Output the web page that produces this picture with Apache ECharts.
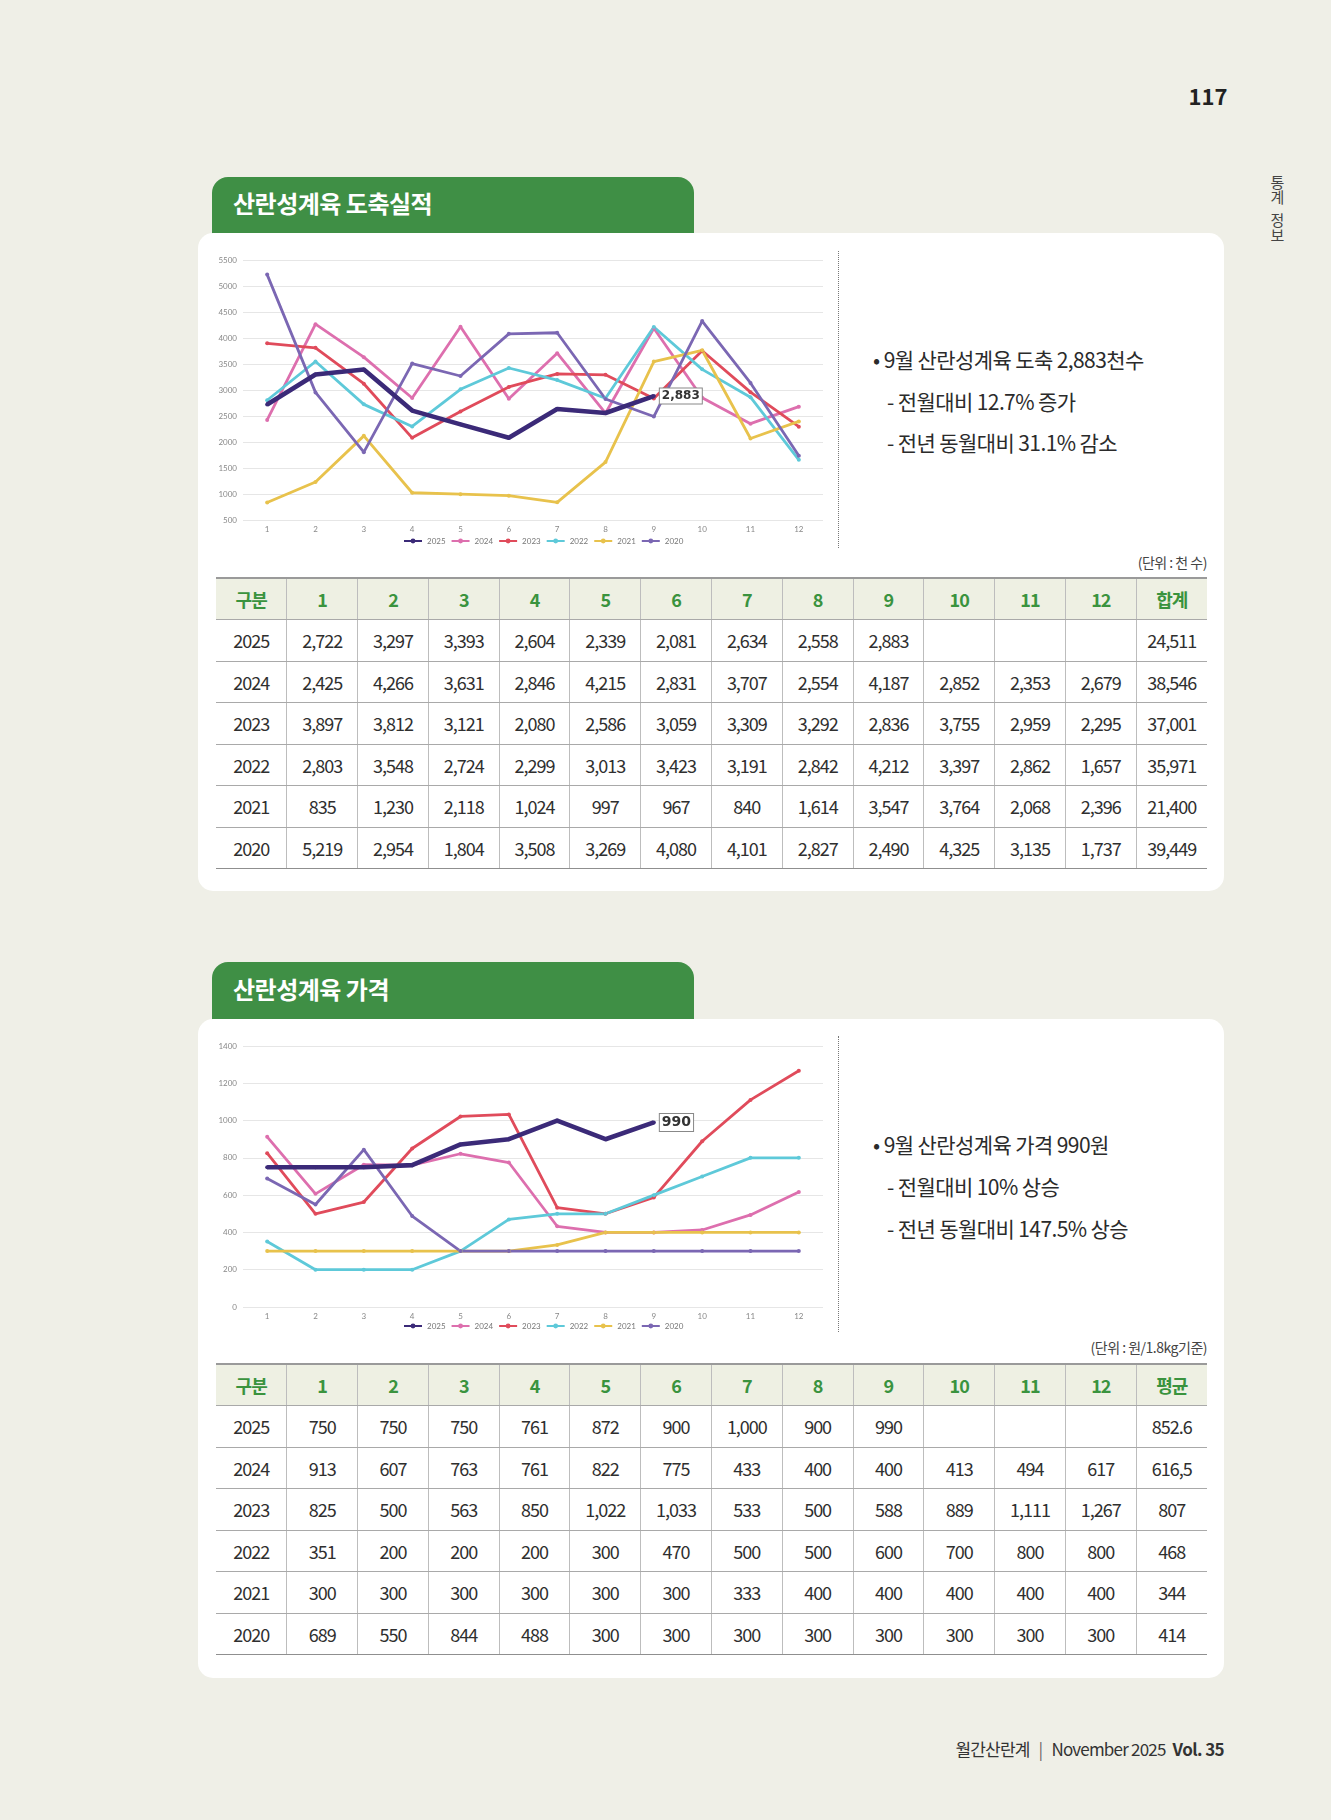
<!DOCTYPE html>
<html><head><meta charset="utf-8">
<script src="https://cdn.jsdelivr.net/npm/echarts@6/dist/echarts.min.js"></script>
<style>
html,body{margin:0;padding:0;}
body{width:1331px;height:1820px;background:#efefe7;position:relative;overflow:hidden;font-family:"Noto Sans CJK KR","Noto Sans",sans-serif;color:#333;}
.abs{position:absolute;}
.tab{position:absolute;left:212px;width:482px;height:80px;background:#3f8f45;border-radius:16px 16px 0 0;}
.tabt{position:absolute;left:233px;color:#fff;font-weight:700;font-size:24px;line-height:30px;letter-spacing:-0.5px;}
.card{position:absolute;left:198px;width:1026px;background:#fff;border-radius:15px;}
.sep{position:absolute;left:838px;width:0;border-left:1.5px dotted #777;}
.txt{position:absolute;font-size:21px;line-height:30px;color:#2b2b2b;letter-spacing:-0.6px;white-space:nowrap;}
.unit{position:absolute;right:124px;font-size:14px;line-height:20px;color:#444;letter-spacing:-0.5px;}
table{position:absolute;left:216px;width:991px;border-collapse:collapse;table-layout:fixed;}
td,th{text-align:center;padding:0;font-size:18px;letter-spacing:-1px;border-left:1px solid #bdbdbd;border-bottom:1px solid #a9a9a9;}
td:first-child,th:first-child{border-left:none;}
th{background:#eef0e3;color:#3a933e;font-weight:700;height:40px;border-top:2px solid #9a9a9a;}
td{height:40.5px;color:#2f2f2f;font-weight:400;}
tr:last-child td{border-bottom:1.5px solid #8f8f8f;}
</style></head>
<body>
<div class="abs" style="left:1180px;top:82px;width:56px;text-align:center;font-size:22px;font-weight:700;line-height:26px;color:#222;">117</div>
<div class="abs" style="left:1268px;top:175px;font-size:15px;color:#444;writing-mode:vertical-rl;text-orientation:upright;letter-spacing:0px;line-height:18px;">통계<span style="display:inline-block;height:8px;"></span>정보</div>

<div class="tab" style="top:177px;"></div>
<div class="tabt" style="top:188px;">산란성계육 도축실적</div>
<div class="card" style="top:233px;height:658px;"></div>
<div id="c1" class="abs" style="left:200px;top:245px;width:630px;height:310px;"></div>
<div class="sep" style="top:251px;height:297px;"></div>
<div class="txt" style="left:873px;top:344px;">• 9월 산란성계육 도축 2,883천수</div>
<div class="txt" style="left:887px;top:386px;">- 전월대비 12.7% 증가</div>
<div class="txt" style="left:887px;top:427px;">- 전년 동월대비 31.1% 감소</div>
<div class="unit" style="top:552px;">(단위 : 천 수)</div>
<table id="t1" style="top:577px;"></table>

<div class="tab" style="top:962px;"></div>
<div class="tabt" style="top:974px;">산란성계육 가격</div>
<div class="card" style="top:1019px;height:659px;"></div>
<div id="c2" class="abs" style="left:200px;top:1030px;width:630px;height:310px;"></div>
<div class="sep" style="top:1036px;height:296px;"></div>
<div class="txt" style="left:873px;top:1129px;">• 9월 산란성계육 가격 990원</div>
<div class="txt" style="left:887px;top:1171px;">- 전월대비 10% 상승</div>
<div class="txt" style="left:887px;top:1213px;">- 전년 동월대비 147.5% 상승</div>
<div class="unit" style="top:1337px;">(단위 : 원/1.8kg기준)</div>
<table id="t2" style="top:1363px;"></table>

<div class="abs" style="right:107px;top:1737px;font-size:17px;line-height:24px;color:#333;white-space:nowrap;letter-spacing:-0.8px;">월간산란계 <span style="color:#666;padding:0 6px;">|</span> November 2025 <b style="margin-left:4px;letter-spacing:-0.6px;">Vol. 35</b></div>

<script>
// ---- data ----
var months = ['1','2','3','4','5','6','7','8','9','10','11','12'];
var years = ['2025','2024','2023','2022','2021','2020'];
var colors = ['#3b2a78','#dd6fae','#e04b5b','#5ec9d9','#e8c24c','#7b67b3'];

// slaughter (천 수)
var s2025 = [2722,3297,3393,2604,2339,2081,2634,2558,2883];
var s2024 = [2425,4266,3631,2846,4215,2831,3707,2554,4187,2852,2353,2679];
var s2023 = [3897,3812,3121,2080,2586,3059,3309,3292,2836,3755,2959,2295];
var s2022 = [2803,3548,2724,2299,3013,3423,3191,2842,4212,3397,2862,1657];
var s2021 = [835,1230,2118,1024,997,967,840,1614,3547,3764,2068,2396];
var s2020 = [5219,2954,1804,3508,3269,4080,4101,2827,2490,4325,3135,1737];
var totals = ['24,511','38,546','37,001','35,971','21,400','39,449'];

// price (원/1.8kg)
var p2025 = [750,750,750,761,872,900,1000,900,990];
var p2024 = [913,607,763,761,822,775,433,400,400,413,494,617];
var p2023 = [825,500,563,850,1022,1033,533,500,588,889,1111,1267];
var p2022 = [351,200,200,200,300,470,500,500,600,700,800,800];
var p2021 = [300,300,300,300,300,300,333,400,400,400,400,400];
var p2020 = [689,550,844,488,300,300,300,300,300,300,300,300];
var avgs = ['852.6','616,5','807','468','344','414'];

var yTicks1 = {min:500,max:5500,interval:500};
var yTicks2 = {min:0,max:1400,interval:200};

function fmt(v){return v.toLocaleString('en-US');}

function buildTable(id, rows, lastHead, lastCol){
  var h = '<tr><th>구분</th>' + months.map(function(m){return '<th>'+m+'</th>';}).join('') + '<th>'+lastHead+'</th></tr>';
  rows.forEach(function(r,i){
    h += '<tr><td>'+years[i]+'</td>';
    for(var k=0;k<12;k++){ h += '<td>' + (r[k]!==undefined?fmt(r[k]):'') + '</td>'; }
    h += '<td>'+lastCol[i]+'</td></tr>';
  });
  document.getElementById(id).innerHTML = h;
}
buildTable('t1',[s2025,s2024,s2023,s2022,s2021,s2020],'합계',totals);
buildTable('t2',[p2025,p2024,p2023,p2022,p2021,p2020],'평균',avgs);

function makeChart(el, dataSets, yt, labelIdx, gridTop, gridBottom, labelSize){
  var chart = echarts.init(document.getElementById(el));
  var series = dataSets.map(function(d,i){
    var data = d.map(function(v,k){
      if(i===0 && k===labelIdx){
        return {value:v,label:{show:true,position:'right',distance:4,formatter:function(p){return fmt(p.value);},
          color:'#333',fontWeight:'bold',fontSize:labelSize,fontFamily:'DejaVu Sans',backgroundColor:'#fff',borderColor:'#888',borderWidth:1,padding:[2,2,1,2]}};
      }
      return v;
    });
    return {name:years[i],type:'line',data:data,symbol:'circle',symbolSize:4,
      lineStyle:{width:i===0?4.6:2.8,color:colors[i]},itemStyle:{color:colors[i]},
      z:i===0?5:2,silent:true,animation:false};
  });
  chart.setOption({
    animation:false,
    grid:{left:43,right:7,top:gridTop,bottom:gridBottom},
    legend:{data:years,top:287,left:198,itemWidth:18,itemHeight:6,itemGap:5,
      textStyle:{fontSize:8,color:'#777',fontFamily:'Lato'}},
    xAxis:{type:'category',data:months,boundaryGap:true,axisLine:{show:false},axisTick:{show:false},
      axisLabel:{fontSize:8,color:'#888',margin:5,fontFamily:'Lato'}},
    yAxis:{type:'value',min:yt.min,max:yt.max,interval:yt.interval,axisLine:{show:false},axisTick:{show:false},
      axisLabel:{fontSize:8,color:'#888',margin:6,fontFamily:'Lato',formatter:function(v){return String(v);}},
      splitLine:{lineStyle:{color:'#e6e6e6',width:1}}},
    series:series
  });
}
makeChart('c1',[s2025,s2024,s2023,s2022,s2021,s2020],yTicks1,8,15,35,12);
makeChart('c2',[p2025,p2024,p2023,p2022,p2021,p2020],yTicks2,8,16,33,14);
</script>
</body></html>
